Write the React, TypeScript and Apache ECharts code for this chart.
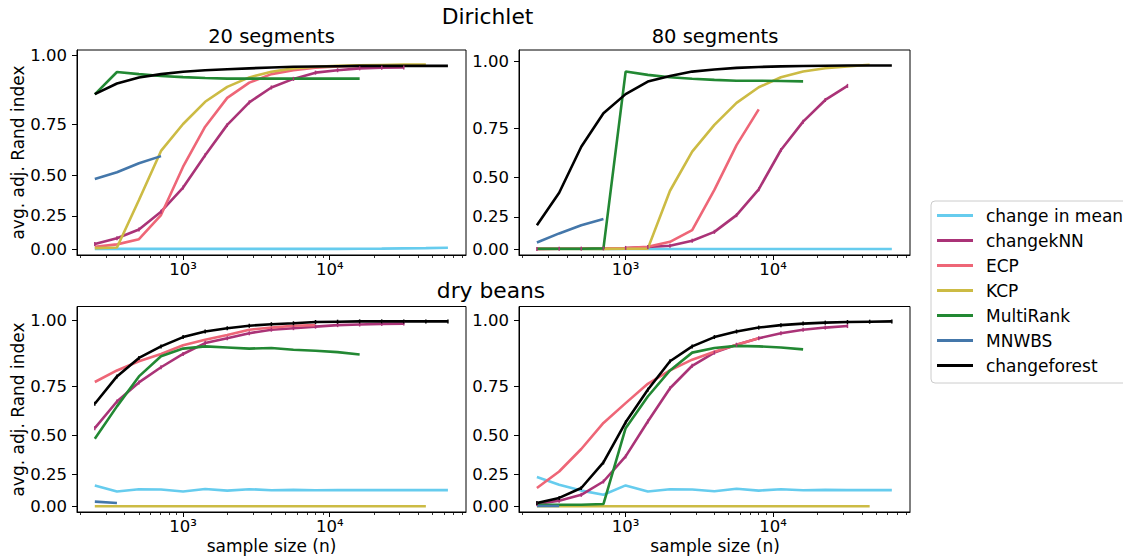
import React, { useEffect, useRef } from "react";
import * as echarts from "echarts";

// sample sizes (n)
const N = [250, 354, 500, 707, 1000, 1414, 2000, 2828, 4000, 5657, 8000, 11314, 16000, 22627, 32000, 45255, 64000];

const METHODS = ["change in mean", "changekNN", "ECP", "KCP", "MultiRank", "MNWBS", "changeforest"];
const COLORS = ["#66CCEE", "#AA3377", "#EE6677", "#CCBB44", "#228833", "#4477AA", "#000000"];

const Y_TICKS = [0, 0.25, 0.5, 0.75, 1];
const X_MAJOR = [1000, 10000];
const X_MINOR = [200, 300, 400, 500, 600, 700, 800, 900, 2000, 3000, 4000, 5000, 6000, 7000, 8000, 9000, 20000, 30000, 40000, 50000, 60000, 70000, 80000];

// Dirichlet, 20 segments
const d20_changeInMean = [0.004, 0.004, 0.004, 0.004, 0.004, 0.004, 0.004, 0.004, 0.004, 0.004, 0.004, 0.004, 0.005, 0.006, 0.008, 0.010, 0.013];
const d20_changekNN = [0.043, 0.088, 0.153, 0.278, 0.43, 0.607, 0.748, 0.84, 0.895, 0.925, 0.946, 0.954, 0.96, 0.962, 0.963];
const d20_ECP = [0.02, 0.04, 0.08, 0.255, 0.547, 0.74, 0.857, 0.912, 0.941, 0.954, 0.962, 0.966, 0.968];
const d20_KCP = [0.01, 0.015, 0.354, 0.628, 0.752, 0.842, 0.897, 0.93, 0.949, 0.96, 0.965, 0.968, 0.97, 0.971, 0.972, 0.972];
const d20_MultiRank = [0.87, 0.948, 0.941, 0.935, 0.931, 0.928, 0.926, 0.926, 0.926, 0.926, 0.926, 0.926, 0.926];
const d20_MNWBS = [0.48, 0.517, 0.565, 0.602];
const d20_changeforest = [0.871, 0.909, 0.93, 0.941, 0.949, 0.954, 0.957, 0.96, 0.963, 0.965, 0.966, 0.967, 0.968, 0.968, 0.968, 0.968, 0.968];

// Dirichlet, 80 segments
const d80_changeInMean = [0.003, 0.003, 0.003, 0.003, 0.003, 0.003, 0.003, 0.003, 0.003, 0.003, 0.003, 0.003, 0.003, 0.003, 0.003, 0.003, 0.003];
const d80_changekNN = [0.004, 0.005, 0.006, 0.008, 0.012, 0.02, 0.03, 0.07, 0.14, 0.262, 0.431, 0.648, 0.779, 0.867, 0.919];
const d80_ECP = [0.004, 0.005, 0.006, 0.008, 0.012, 0.022, 0.062, 0.153, 0.427, 0.672, 0.83];
const d80_KCP = [0.003, 0.003, 0.003, 0.004, 0.005, 0.006, 0.422, 0.64, 0.765, 0.856, 0.914, 0.949, 0.968, 0.979, 0.985, 0.99];
const d80_MultiRank = [0.005, 0.005, 0.005, 0.008, 0.968, 0.957, 0.949, 0.944, 0.94, 0.937, 0.937, 0.936, 0.935];
const d80_MNWBS = [0.057, 0.128, 0.19, 0.235];
const d80_changeforest = [0.19, 0.41, 0.664, 0.814, 0.889, 0.934, 0.953, 0.968, 0.975, 0.98, 0.983, 0.985, 0.986, 0.987, 0.988, 0.988, 0.988];

// dry beans, left
const b20_changeInMean = [0.168, 0.121, 0.139, 0.137, 0.121, 0.14, 0.128, 0.139, 0.131, 0.134, 0.131, 0.132, 0.132, 0.132, 0.132, 0.132, 0.132];
const b20_changekNN = [0.541, 0.68, 0.768, 0.832, 0.884, 0.924, 0.941, 0.958, 0.97, 0.975, 0.98, 0.985, 0.987, 0.989, 0.99];
const b20_ECP = [0.77, 0.819, 0.856, 0.884, 0.916, 0.936, 0.952, 0.97, 0.977, 0.983, 0.985];
const b20_KCP = [0.002, 0.002, 0.002, 0.002, 0.002, 0.002, 0.002, 0.002, 0.002, 0.002, 0.002, 0.002, 0.002, 0.002, 0.002, 0.002];
const b20_MultiRank = [0.48, 0.656, 0.794, 0.875, 0.904, 0.912, 0.908, 0.904, 0.906, 0.9, 0.896, 0.891, 0.882];
const b20_MNWBS = [0.04, 0.028];
const b20_changeforest = [0.669, 0.794, 0.869, 0.912, 0.945, 0.964, 0.975, 0.983, 0.988, 0.991, 0.995, 0.996, 0.997, 0.997, 0.997, 0.997, 0.997];

// dry beans, right
const b80_changeInMean = [0.23, 0.173, 0.128, 0.095, 0.168, 0.121, 0.139, 0.137, 0.123, 0.142, 0.128, 0.139, 0.131, 0.134, 0.132, 0.132, 0.132];
const b80_changekNN = [0.02, 0.048, 0.095, 0.197, 0.371, 0.578, 0.742, 0.838, 0.889, 0.918, 0.941, 0.958, 0.97, 0.977, 0.982];
const b80_ECP = [0.148, 0.269, 0.418, 0.57, 0.672, 0.762, 0.819, 0.862, 0.892, 0.918, 0.941];
const b80_KCP = [0.002, 0.002, 0.002, 0.002, 0.002, 0.002, 0.002, 0.002, 0.002, 0.002, 0.002, 0.002, 0.002, 0.002, 0.002, 0.002];
const b80_MultiRank = [0.014, 0.014, 0.014, 0.02, 0.541, 0.704, 0.819, 0.889, 0.906, 0.914, 0.912, 0.908, 0.901];
const b80_MNWBS = [0.003, 0.003];
const b80_changeforest = [0.028, 0.07, 0.148, 0.331, 0.573, 0.735, 0.856, 0.912, 0.945, 0.964, 0.977, 0.985, 0.99, 0.993, 0.995, 0.996, 0.997];

const PANELS = [
  [d20_changeInMean, d20_changekNN, d20_ECP, d20_KCP, d20_MultiRank, d20_MNWBS, d20_changeforest],
  [d80_changeInMean, d80_changekNN, d80_ECP, d80_KCP, d80_MultiRank, d80_MNWBS, d80_changeforest],
  [b20_changeInMean, b20_changekNN, b20_ECP, b20_KCP, b20_MultiRank, b20_MNWBS, b20_changeforest],
  [b80_changeInMean, b80_changekNN, b80_ECP, b80_KCP, b80_MultiRank, b80_MNWBS, b80_changeforest],
];

// y-axis scale function (stretches values near 1)
const C = 1.6;
const warp = (v: number) => Math.log(C / (C - v)) / Math.log(C / (C - 1));
const unwarp = (f: number) => C * (1 - Math.pow((C - 1) / C, f));

const FONT = "DejaVu Sans";

export default function App() {
  const ref = useRef<HTMLDivElement>(null);
  useEffect(() => {
    if (!ref.current) return;
    const chart = echarts.init(ref.current, null, { renderer: "svg" });

    const grids = [
      { left: 77, top: 50, width: 389, height: 205 },
      { left: 519, top: 50, width: 391, height: 205 },
      { left: 77, top: 306.5, width: 389, height: 205.5 },
      { left: 519, top: 306.5, width: 391, height: 205.5 },
    ];
    const yRanges = [
      [-0.029, 1.029],
      [-0.03, 1.062],
      [-0.03, 1.075],
      [-0.03, 1.075],
    ];
    const yTickVals = Y_TICKS.map(warp);
    const sup: Record<string, string> = { "3": "³", "4": "⁴" };

    const xAxes: any[] = [];
    const yAxes: any[] = [];
    const series: any[] = [];
    grids.forEach((g, p) => {
      xAxes.push({
        type: "log",
        logBase: 10,
        gridIndex: p,
        min: 189,
        max: 85000,
        position: "bottom",
        axisLine: { show: true, onZero: false, lineStyle: { color: "#000", width: 1 } },
        axisTick: { show: true, customValues: X_MAJOR, length: 5, lineStyle: { color: "#000", width: 1 } },
        axisLabel: {
          show: true,
          customValues: X_MAJOR,
          margin: 6,
          fontSize: 16.5,
          fontFamily: FONT,
          color: "#000",
          formatter: (v: number) => "10" + sup[String(Math.round(Math.log10(v)))],
        },
        splitLine: { show: false },
      });
      xAxes.push({
        type: "log",
        logBase: 10,
        gridIndex: p,
        min: 189,
        max: 85000,
        position: "bottom",
        axisLine: { show: false, onZero: false },
        axisTick: { show: true, customValues: X_MINOR, length: 3, lineStyle: { color: "#000", width: 0.8 } },
        axisLabel: { show: false },
        splitLine: { show: false },
      });
      yAxes.push({
        type: "value",
        gridIndex: p,
        min: yRanges[p][0],
        max: yRanges[p][1],
        axisLine: { show: true, onZero: false, lineStyle: { color: "#000", width: 1 } },
        axisTick: { show: true, customValues: yTickVals, length: 5, lineStyle: { color: "#000", width: 1 } },
        axisLabel: {
          show: true,
          customValues: yTickVals,
          margin: 10,
          fontSize: 16.5,
          fontFamily: FONT,
          color: "#000",
          formatter: (v: number) => Math.abs(unwarp(v)).toFixed(2),
        },
        splitLine: { show: false },
      });
      PANELS[p].forEach((vals, m) => {
        const withBars = m === 1 || (m === 6 && p >= 2);
        series.push({
          type: "line",
          name: METHODS[m],
          xAxisIndex: 2 * p,
          yAxisIndex: p,
          data: vals.map((v, i) => [N[i], warp(v)]),
          showSymbol: withBars,
          symbol: "rect",
          symbolSize: [1.5, 4],
          color: COLORS[m],
          itemStyle: { color: COLORS[m] },
          lineStyle: { color: COLORS[m], width: 2.6 },
          emphasis: { disabled: true },
          silent: true,
        });
      });
    });

    const text = (t: string, x: number, y: number, size: number, rot = 0) => ({
      type: "text",
      x,
      y,
      rotation: rot,
      style: {
        text: t,
        fontSize: size,
        fontFamily: FONT,
        fill: "#000",
        align: "center",
        verticalAlign: "middle",
      },
    });

    chart.setOption({
      animation: false,
      backgroundColor: "#fff",
      textStyle: { fontFamily: FONT },
      grid: grids.map((g) => ({ ...g, show: true, borderColor: "#000", borderWidth: 1, backgroundColor: "transparent" })),
      xAxis: xAxes,
      yAxis: yAxes,
      series,
      legend: {
        data: METHODS,
        orient: "vertical",
        left: 931,
        top: 201,
        icon: "rect",
        itemWidth: 36,
        itemHeight: 3,
        itemGap: 8,
        padding: [6, 6, 9, 6],
        borderColor: "#cccccc",
        borderWidth: 1,
        borderRadius: 4,
        backgroundColor: "#fff",
        textStyle: { fontSize: 17, lineHeight: 17, color: "#000", fontFamily: FONT, padding: [0, 0, 0, 8] },
      },
      graphic: [
        text("Dirichlet", 487.5, 16.5, 21.8),
        text("20 segments", 271.5, 36, 19.5),
        text("80 segments", 715, 36, 19.5),
        text("dry beans", 491, 290, 21.8),
        text("avg. adj. Rand index", 17.5, 152.5, 17, Math.PI / 2),
        text("avg. adj. Rand index", 17.5, 409.5, 17, Math.PI / 2),
        text("sample size (n)", 271.5, 546, 17),
        text("sample size (n)", 715, 546, 17),
      ],
    });
    return () => chart.dispose();
  }, []);
  return <div ref={ref} style={{ position: "fixed", left: 0, top: 0, width: 1123, height: 558 }} />;
}
